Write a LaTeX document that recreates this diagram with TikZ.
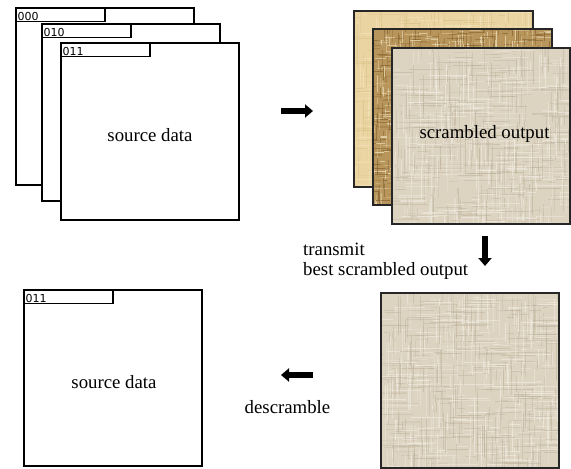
\documentclass[tikz,border=0pt]{standalone}
\usepackage{fontspec}
\setmainfont{Liberation Serif}
\newfontfamily\labfont{DejaVu Sans}
\usetikzlibrary{arrows.meta}
\definecolor{tanA}{HTML}{EAD5A2}
\definecolor{tanAl}{HTML}{F4E4BC}
\definecolor{tanAd}{HTML}{D9BF86}
\definecolor{brnB}{HTML}{B8955A}
\definecolor{brnBl}{HTML}{EFE2C0}
\definecolor{brnBd}{HTML}{7C5A28}
\definecolor{linC}{HTML}{DCD3C1}
\definecolor{linCl}{HTML}{F0EBE0}
\definecolor{linCd}{HTML}{BFB49D}
\newcommand\mytexture[9]{% x y w h base light dark count maxlen
  \begin{scope}
    \clip (#1,#2) rectangle ++(#3,#4);
    \fill[#5] (#1,#2) rectangle ++(#3,#4);
    \foreach \k in {1,...,#8}{
      \pgfmathsetmacro\px{#1+rnd*#3}
      \pgfmathsetmacro\py{#2+rnd*#4}
      \pgfmathsetmacro\lnA{4+rnd*#9}
      \pgfmathsetmacro\lnB{4+rnd*#9}
      \pgfmathsetmacro\opA{0.25+0.5*rnd}
      \pgfmathsetmacro\opB{0.2+0.4*rnd}
      \draw[#6, line width=0.8pt, opacity=\opA] (\px,\py) -- ++(0,\lnA);
      \draw[#6, line width=0.8pt, opacity=\opA] (\py-#2+#1,\px-#1+#2) -- ++(\lnB,0);
      \draw[#7, line width=0.7pt, opacity=\opB] (\px+3,\py-10) -- ++(0,\lnB);
      \draw[#7, line width=0.7pt, opacity=\opB] (\py-#2+#1-10,\px-#1+#2+3) -- ++(\lnA,0);
    }
  \end{scope}
}
\begin{document}
\begin{tikzpicture}[x=1pt,y=-1pt,
  frame/.style={draw=black, line width=1.5pt, fill=white, inner sep=0pt, outer sep=0pt,
    minimum width=178pt, minimum height=177pt, anchor=north west},
  tag/.style={draw=black, line width=1.3pt, fill=white, inner sep=0pt, outer sep=0pt,
    minimum width=89pt, minimum height=13.5pt, anchor=north west},
  tagtext/.style={font=\labfont\fontsize{11}{12}\selectfont, inner sep=0pt, anchor=base west},
  tile/.style={draw=black!85, line width=1.3pt, inner sep=0pt, outer sep=0pt,
    minimum width=179pt, minimum height=176pt, anchor=north west},
  txt/.style={font=\fontsize{18.8}{22}\selectfont, inner sep=0pt},
  blockarrow/.style={line width=5.5pt, -{Triangle[length=8pt,width=13pt]}}
]
\useasboundingbox (0,0) rectangle (571,469);
\pgfmathsetseed{7}
% source stack
\node[frame] (f1) at (16,8) {};
\node[tag] (t1) at (16,8) {};
\node[tagtext] (l1) at (17.5,20.5) {000};
\node[frame] (f2) at (42,24) {};
\node[tag] (t2) at (42,24) {};
\node[tagtext] (l2) at (43.5,36.5) {010};
\node[frame] (f3) at (61,43) {};
\node[tag] (t3) at (61,43) {};
\node[tagtext] (l3) at (62.5,55.5) {011};
\node[txt] (src1) at (150,135) {source data};
% scrambled stack
\mytexture{354}{11}{179}{176}{tanA}{tanAl}{tanAd}{160}{40}
\node[tile] (s1) at (354,11) {};
\mytexture{373}{29}{179}{176}{brnB}{brnBl}{brnBd}{420}{14}
\node[tile] (s2) at (373,29) {};
\mytexture{392}{48}{178}{176}{linC}{linCl}{linCd}{220}{35}
\node[tile, minimum width=178pt] (s3) at (392,48) {};
\node[txt] (scr) at (484.5,134) {scrambled output};
% arrows top
\coordinate (a1s) at (281,111);
\coordinate (a1e) at (313,111);
\draw[blockarrow] (a1s) -- (a1e);
\coordinate (a2s) at (485,236);
\coordinate (a2e) at (485,266);
\draw[blockarrow] (a2s) -- (a2e);
\node[txt, anchor=west] (tr1) at (303,249) {transmit};
\node[txt, anchor=west] (tr2) at (303,271) {best scrambled output};
% best output
\mytexture{381}{293}{178}{175}{linC}{linCl}{linCd}{220}{35}
\node[tile, minimum width=178pt, minimum height=175pt] (b1) at (381,293) {};
% descramble arrow
\coordinate (a3s) at (313,375);
\coordinate (a3e) at (281,375);
\draw[blockarrow] (a3s) -- (a3e);
\node[txt] (desc) at (287.5,407) {descramble};
% result
\node[frame, minimum height=176pt] (r1) at (24,290) {};
\node[tag] (rt) at (24,290) {};
\node[tagtext] (rl) at (25.5,302.5) {011};
\node[txt] (src2) at (114,382) {source data};
\end{tikzpicture}
\end{document}
